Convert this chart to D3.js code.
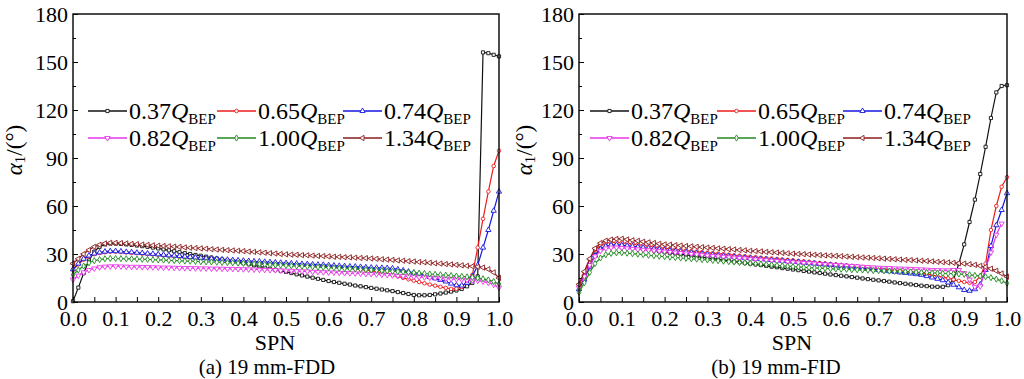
<!DOCTYPE html>
<html>
<head>
<meta charset="utf-8">
<script src="https://cdn.jsdelivr.net/npm/d3@7"></script>
<style>
  body { margin: 0; background: #fff; }
  svg text { font-family: "Liberation Serif", "Times New Roman", serif; fill: #000; }
</style>
</head>
<body>
<svg id="chart" width="1024" height="379"></svg>
<script>
// SPN sample positions (every 0.0125)
const spn = d3.range(81).map(i => i * 0.0125)

const flowRates = ['0.37', '0.65', '0.74', '0.82', '1.00', '1.34']
const colors = ['#111111', '#ee1c1c', '#1616e0', '#e834e8', '#1f8a1f', '#8b1d1d']

const xTicks = [0, 0.1, 0.2, 0.3, 0.4, 0.5, 0.6, 0.7, 0.8, 0.9, 1.0]
const xMinor = [0.05, 0.15, 0.25, 0.35, 0.45, 0.55, 0.65, 0.75, 0.85, 0.95]
const yTicks = [0, 30, 60, 90, 120, 150, 180]
const yMinor = [15, 45, 75, 105, 135, 165]

// (a) 19 mm-FDD
const fddBlack = [0.5, 9, 18, 26, 31.5, 34.5, 36, 36.5, 36.5,
  36.3, 36, 35.7, 35.3, 34.9, 34.5, 34, 33.5,
  32.9, 32.3, 31.7, 31.1, 30.5, 30, 29.4, 28.9,
  28.3, 27.8, 27.2, 26.6, 26.1, 25.5, 24.9, 24.3,
  23.6, 22.9, 22.2, 21.5, 20.8, 20.1, 19.5, 18.8,
  18.1, 17.3, 16.6, 15.9, 15.2, 14.5, 13.8, 13.1,
  12.5, 12.0, 11.4, 10.9, 10.3, 9.8, 9.3, 8.8,
  8.3, 7.8, 7.3, 6.8, 6.2, 5.6, 5.0, 4.4,
  4.2, 4.2, 4.4, 4.8, 5.3, 5.9, 6.5, 7.2,
  8.2, 9.8, 12, 16, 156, 155.5, 154.5, 153.5]
const fddRed = [20, 23.5, 26.5, 28.6, 29.9, 30.6, 31.1, 31.4, 31.4,
  31.2, 31.0, 30.7, 30.5, 30.2, 30.0, 29.7, 29.5,
  29.2, 28.9, 28.6, 28.3, 28.0, 27.7, 27.4, 27.1,
  26.9, 26.7, 26.5, 26.3, 26.1, 25.9, 25.7, 25.5,
  25.3, 25.1, 24.9, 24.7, 24.5, 24.3, 24.1, 23.9,
  23.7, 23.5, 23.3, 23.1, 22.9, 22.7, 22.5, 22.3,
  22.1, 21.8, 21.6, 21.3, 20.9, 20.4, 20.0, 19.5,
  18.9, 18.2, 17.5, 16.8, 16.0, 15.1, 14.2, 13.3,
  12.5, 11.7, 10.9, 10.2, 9.5, 8.8, 8.2, 8.3,
  9.5, 12.5, 17, 34, 52, 69, 85, 94.5]
const fddBlue = [20.5, 24, 27, 29, 30.3, 31, 31.5, 31.8, 31.8,
  31.6, 31.3, 31.1, 30.8, 30.6, 30.3, 30.1, 29.8,
  29.5, 29.2, 29.0, 28.7, 28.4, 28.1, 27.8, 27.5,
  27.3, 27.1, 26.9, 26.6, 26.4, 26.2, 26.0, 25.8,
  25.6, 25.4, 25.3, 25.1, 24.9, 24.7, 24.5, 24.3,
  24.1, 24.0, 23.8, 23.7, 23.5, 23.3, 23.2, 23.0,
  22.8, 22.6, 22.4, 22.2, 22.1, 21.9, 21.7, 21.5,
  21.4, 21.3, 21.2, 21.0, 20.4, 19.7, 19.0, 18.3,
  17.5, 16.6, 15.7, 14.8, 13.8, 12.8, 11.5, 10.5,
  10.3, 12.0, 16, 23, 34, 45, 57, 69]
const fddMagenta = [14, 16.5, 18.5, 20, 21, 21.7, 22.1, 22.3, 22.3,
  22.2, 22.1, 22.0, 22.0, 21.9, 21.8, 21.7, 21.6,
  21.5, 21.5, 21.4, 21.3, 21.2, 21.2, 21.1, 21.0,
  21.0, 20.9, 20.9, 20.8, 20.7, 20.7, 20.6, 20.5,
  20.4, 20.3, 20.2, 20.1, 20.0, 19.9, 19.7, 19.6,
  19.5, 19.3, 19.2, 19.1, 18.9, 18.8, 18.6, 18.5,
  18.4, 18.3, 18.1, 18.0, 17.9, 17.8, 17.6, 17.5,
  17.3, 17.1, 16.9, 16.7, 16.4, 16.2, 16.0, 15.8,
  15.6, 15.4, 15.2, 15.0, 14.8, 14.6, 14.4, 14.2,
  14.0, 13.8, 13.6, 13.3, 12.8, 12.0, 10.8, 9.0]
const fddGreen = [17, 20, 22.5, 24.5, 25.8, 26.5, 27, 27.2, 27.2,
  27.1, 27.0, 26.9, 26.8, 26.7, 26.6, 26.4, 26.3,
  26.2, 26.0, 25.9, 25.8, 25.6, 25.5, 25.4, 25.2,
  25.1, 25.0, 24.9, 24.7, 24.6, 24.5, 24.3, 24.2,
  24.0, 23.8, 23.7, 23.5, 23.3, 23.1, 23.0, 22.8,
  22.6, 22.5, 22.3, 22.2, 22.0, 21.8, 21.7, 21.5,
  21.3, 21.1, 20.9, 20.8, 20.6, 20.4, 20.2, 20.0,
  19.8, 19.6, 19.4, 19.2, 19.0, 18.8, 18.5, 18.3,
  18.0, 17.8, 17.5, 17.3, 17.0, 16.8, 16.5, 16.2,
  16.0, 15.7, 15.4, 15.0, 14.5, 13.8, 12.8, 11.2]
const fddBrown = [24, 27, 30, 32.5, 34.5, 35.8, 36.6, 37, 37,
  36.8, 36.6, 36.3, 36.1, 35.9, 35.7, 35.4, 35.2,
  35.0, 34.8, 34.6, 34.4, 34.1, 33.9, 33.7, 33.5,
  33.3, 33.0, 32.8, 32.6, 32.4, 32.2, 32.0, 31.8,
  31.5, 31.3, 31.0, 30.8, 30.5, 30.3, 30.0, 29.8,
  29.6, 29.5, 29.3, 29.2, 29.0, 28.8, 28.7, 28.5,
  28.3, 28.2, 28.0, 27.9, 27.7, 27.5, 27.4, 27.2,
  27.0, 26.7, 26.5, 26.3, 26.0, 25.8, 25.5, 25.3,
  25.0, 24.8, 24.5, 24.2, 24.0, 23.7, 23.5, 23.2,
  22.9, 22.6, 22.3, 22.0, 21.5, 20.5, 18.5, 15.0]

// (b) 19 mm-FID
const fidBlack = [8, 15, 23, 29.5, 33, 34.8, 35.3, 35.3, 35.0,
  34.5, 34.1, 33.6, 33.1, 32.7, 32.2, 31.7, 31.2,
  30.7, 30.3, 29.8, 29.4, 28.9, 28.4, 28.0, 27.5,
  27.1, 26.6, 26.2, 25.7, 25.3, 24.9, 24.4, 24.0,
  23.5, 23.1, 22.6, 22.1, 21.7, 21.2, 20.8, 20.3,
  19.9, 19.4, 19.0, 18.5, 18.1, 17.7, 17.2, 16.8,
  16.4, 16.0, 15.6, 15.2, 14.7, 14.3, 13.9, 13.5,
  13.1, 12.7, 12.2, 11.8, 11.4, 11.0, 10.6, 10.2,
  9.9, 9.6, 9.5, 9.5, 10.5, 14, 24, 36,
  50, 64, 80, 97, 115, 131, 135, 135.5]
const fidRed = [11, 18.5, 26.5, 32.5, 35.5, 36.8, 37.2, 37.2, 37.0,
  36.6, 36.2, 35.8, 35.4, 34.9, 34.5, 34.0, 33.5,
  33.2, 32.8, 32.5, 32.2, 31.8, 31.5, 31.1, 30.8,
  30.5, 30.2, 29.9, 29.6, 29.2, 28.9, 28.6, 28.3,
  28.0, 27.7, 27.4, 27.2, 26.9, 26.6, 26.3, 26.0,
  25.7, 25.4, 25.1, 24.8, 24.4, 24.1, 23.8, 23.5,
  23.2, 22.9, 22.6, 22.3, 21.9, 21.6, 21.3, 21.0,
  20.6, 20.2, 19.8, 19.4, 19.1, 18.8, 18.4, 18.0,
  17.4, 16.8, 16.1, 15.5, 14.8, 14.0, 13.2, 12.5,
  12.0, 12.5, 16.0, 24.0, 45.0, 60.0, 72.0, 78.0]
const fidBlue = [8, 14, 22, 29, 33, 34.8, 35.5, 35.7, 35.5,
  35.1, 34.8, 34.4, 34.0, 33.6, 33.2, 32.9, 32.5,
  32.2, 31.8, 31.5, 31.2, 30.8, 30.5, 30.1, 29.8,
  29.5, 29.2, 28.9, 28.6, 28.2, 27.9, 27.6, 27.3,
  27.0, 26.8, 26.5, 26.2, 26.0, 25.7, 25.5, 25.2,
  24.9, 24.6, 24.3, 24.0, 23.7, 23.4, 23.1, 22.8,
  22.5, 22.1, 21.8, 21.4, 21.1, 20.7, 20.4, 20.0,
  19.6, 19.3, 18.9, 18.5, 18.2, 17.8, 17.4, 17.0,
  16.2, 15.3, 14.5, 13.6, 12.2, 10.8, 9.2, 7.5,
  7.0, 8.0, 11.0, 20.0, 35.0, 48.0, 57.5, 68.0]
const fidMagenta = [9, 16, 23, 28.5, 32, 33.5, 34, 34, 33.8,
  33.5, 33.2, 32.9, 32.6, 32.4, 32.1, 31.8, 31.5,
  31.2, 30.9, 30.6, 30.3, 30.0, 29.7, 29.3, 29.0,
  28.7, 28.5, 28.2, 28.0, 27.7, 27.4, 27.2, 26.9,
  26.6, 26.4, 26.1, 25.8, 25.6, 25.3, 25.1, 24.8,
  24.6, 24.4, 24.2, 24.0, 23.7, 23.5, 23.3, 23.1,
  22.9, 22.7, 22.5, 22.3, 22.0, 21.8, 21.6, 21.4,
  21.3, 21.2, 21.0, 20.9, 20.8, 20.7, 20.5, 20.4,
  20.2, 20.0, 19.9, 19.8, 19.8, 20.0, 20.0, 18.0,
  14.0, 9.5, 9.8, 21, 31, 42, 49, null]
const fidGreen = [6, 12, 18.5, 24, 27.5, 29.5, 30.4, 30.8, 30.8,
  30.5, 30.2, 29.9, 29.6, 29.2, 28.9, 28.6, 28.3,
  28.0, 27.8, 27.5, 27.3, 27.0, 26.8, 26.5, 26.3,
  26.0, 25.8, 25.5, 25.2, 25.0, 24.7, 24.5, 24.2,
  23.9, 23.7, 23.4, 23.2, 22.9, 22.6, 22.4, 22.1,
  21.9, 21.7, 21.5, 21.3, 21.2, 21.0, 20.8, 20.6,
  20.5, 20.4, 20.2, 20.1, 20.0, 19.9, 19.7, 19.6,
  19.5, 19.3, 19.2, 19.1, 18.9, 18.8, 18.6, 18.5,
  18.4, 18.2, 18.1, 17.9, 17.8, 17.7, 17.5, 17.3,
  17.0, 16.6, 16.2, 15.8, 15.2, 14.3, 13.2, 11.7]
const fidBrown = [11, 19, 27, 33.5, 36.8, 38.3, 39, 39.4, 39.5,
  39.1, 38.6, 38.2, 37.7, 37.3, 36.9, 36.4, 36.0,
  35.8, 35.5, 35.3, 35.0, 34.8, 34.5, 34.3, 34.0,
  33.8, 33.5, 33.3, 33.0, 32.8, 32.5, 32.3, 32.0,
  31.8, 31.6, 31.3, 31.1, 30.9, 30.7, 30.4, 30.2,
  30.0, 29.9, 29.7, 29.5, 29.3, 29.1, 29.0, 28.8,
  28.6, 28.4, 28.2, 28.0, 27.8, 27.7, 27.5, 27.3,
  27.1, 26.9, 26.7, 26.5, 26.3, 26.2, 26.0, 25.8,
  25.6, 25.4, 25.1, 24.9, 24.7, 24.5, 24.2, 24.0,
  23.6, 23.2, 22.6, 21.9, 20.8, 19.5, 17.8, 15.8]

const fddSeries = [fddBlack, fddRed, fddBlue, fddMagenta, fddGreen, fddBrown]
const fidSeries = [fidBlack, fidRed, fidBlue, fidMagenta, fidGreen, fidBrown]

// Markers: square, circle, up, down, diamond, left
const symbols = [d3.symbolSquare, d3.symbolCircle, d3.symbolTriangle, d3.symbolTriangle, d3.symbolDiamond, d3.symbolTriangle]
const rotations = [0, 0, 0, 180, 0, -90]
const sizes = [10, 10, 12, 12, 11, 12]

const svg = d3.select('#chart')
svg.append('rect').attr('width', 1024).attr('height', 379).attr('fill', '#fff')

function drawPanel(series, p) {
  const top = 14, bottom = 302
  const xScale = d3.scaleLinear().domain([0, 1]).range([p.left, p.right])
  const yScale = d3.scaleLinear().domain([0, 180]).range([bottom, top])

  const ctr = svg.append('g')

  // Axes (ticks point inward)
  const yMinorAxis = d3.axisLeft(yScale).tickValues(yMinor).tickSizeInner(-3).tickSizeOuter(0).tickFormat('')
  const yAxis = d3.axisLeft(yScale).tickValues(yTicks).tickSizeInner(-5).tickSizeOuter(0)
    .tickPadding(5).tickFormat(d3.format('d'))
  const xMinorAxis = d3.axisBottom(xScale).tickValues(xMinor).tickSizeInner(-5).tickSizeOuter(0).tickFormat('')
  const xAxis = d3.axisBottom(xScale).tickValues(xTicks).tickSizeInner(-5).tickSizeOuter(0)
    .tickPadding(8).tickFormat(d3.format('.1f'))

  const axes = [
    ctr.append('g').attr('transform', `translate(${p.left},0)`).call(yMinorAxis),
    ctr.append('g').attr('transform', `translate(${p.left},0)`).call(yAxis),
    ctr.append('g').attr('transform', `translate(0,${bottom})`).call(xMinorAxis),
    ctr.append('g').attr('transform', `translate(0,${bottom})`).call(xAxis)
  ]
  axes.forEach(g => {
    g.select('.domain').remove()
    g.selectAll('line').attr('stroke', '#000').attr('stroke-width', 1)
    g.selectAll('text').attr('font-size', 22).attr('font-family', null)
  })

  // Lines + markers
  const lineGenerator = d3.line()
    .defined(d => d.v != null)
    .x(d => xScale(d.s))
    .y(d => yScale(d.v))

  series.forEach((vals, k) => {
    const pts = vals.map((v, i) => ({ s: spn[i], v }))
    ctr.append('path')
      .datum(pts)
      .attr('d', lineGenerator)
      .attr('fill', 'none')
      .attr('stroke', colors[k])
      .attr('stroke-width', 1.2)

    ctr.append('g').selectAll('path')
      .data(pts.filter(d => d.v != null))
      .join('path')
      .attr('d', d3.symbol(symbols[k], sizes[k]))
      .attr('transform', d => `translate(${xScale(d.s)},${yScale(d.v)}) rotate(${rotations[k]})`)
      .attr('fill', '#fff')
      .attr('stroke', colors[k])
      .attr('stroke-width', 0.9)
  })

  // Frame
  ctr.append('rect')
    .attr('x', p.left).attr('y', top)
    .attr('width', p.right - p.left).attr('height', bottom - top)
    .attr('fill', 'none').attr('stroke', '#000').attr('stroke-width', 1.4)

  // Legend
  flowRates.forEach((q, k) => {
    const row = Math.floor(k / 3), col = k % 3
    const lx = p.left + p.legendX[col]
    const ly = 111 + row * 27
    ctr.append('line')
      .attr('x1', lx).attr('x2', lx + 39).attr('y1', ly).attr('y2', ly)
      .attr('stroke', colors[k]).attr('stroke-width', 1.4)
    ctr.append('path')
      .attr('d', d3.symbol(symbols[k], sizes[k]))
      .attr('transform', `translate(${lx + 19.5},${ly}) rotate(${rotations[k]})`)
      .attr('fill', '#fff').attr('stroke', colors[k]).attr('stroke-width', 0.9)
    const t = ctr.append('text')
      .attr('x', lx + 41).attr('y', ly + 8)
      .attr('font-size', 24)
    t.append('tspan').text(q)
    t.append('tspan').attr('font-style', 'italic').text('Q')
    t.append('tspan').attr('font-size', 15).attr('dy', 5).text('BEP')
  })

  // Axis titles
  ctr.append('text')
    .attr('x', p.spnX).attr('y', 350)
    .attr('text-anchor', 'middle').attr('font-size', 22)
    .text('SPN')

  ctr.append('text')
    .attr('x', p.capX).attr('y', 374)
    .attr('text-anchor', 'middle').attr('font-size', 21)
    .text(p.caption)

  const yt = ctr.append('text')
    .attr('transform', `translate(${p.titleX},150) rotate(-90)`)
    .attr('text-anchor', 'middle').attr('dominant-baseline', 'middle')
    .attr('font-size', 23)
  yt.append('tspan').attr('font-style', 'italic').text('α')
  yt.append('tspan').attr('font-size', 15).attr('dy', 5).text('1')
  yt.append('tspan').attr('dy', -5).text('/(°)')
}

drawPanel(fddSeries, {
  left: 73, right: 499, legendX: [15, 144, 270],
  spnX: 275, capX: 267, titleX: 17, caption: '(a) 19 mm-FDD'
})
drawPanel(fidSeries, {
  left: 579, right: 1007, legendX: [11, 138, 264],
  spnX: 792, capX: 776, titleX: 527, caption: '(b) 19 mm-FID'
})
</script>
</body>
</html>
